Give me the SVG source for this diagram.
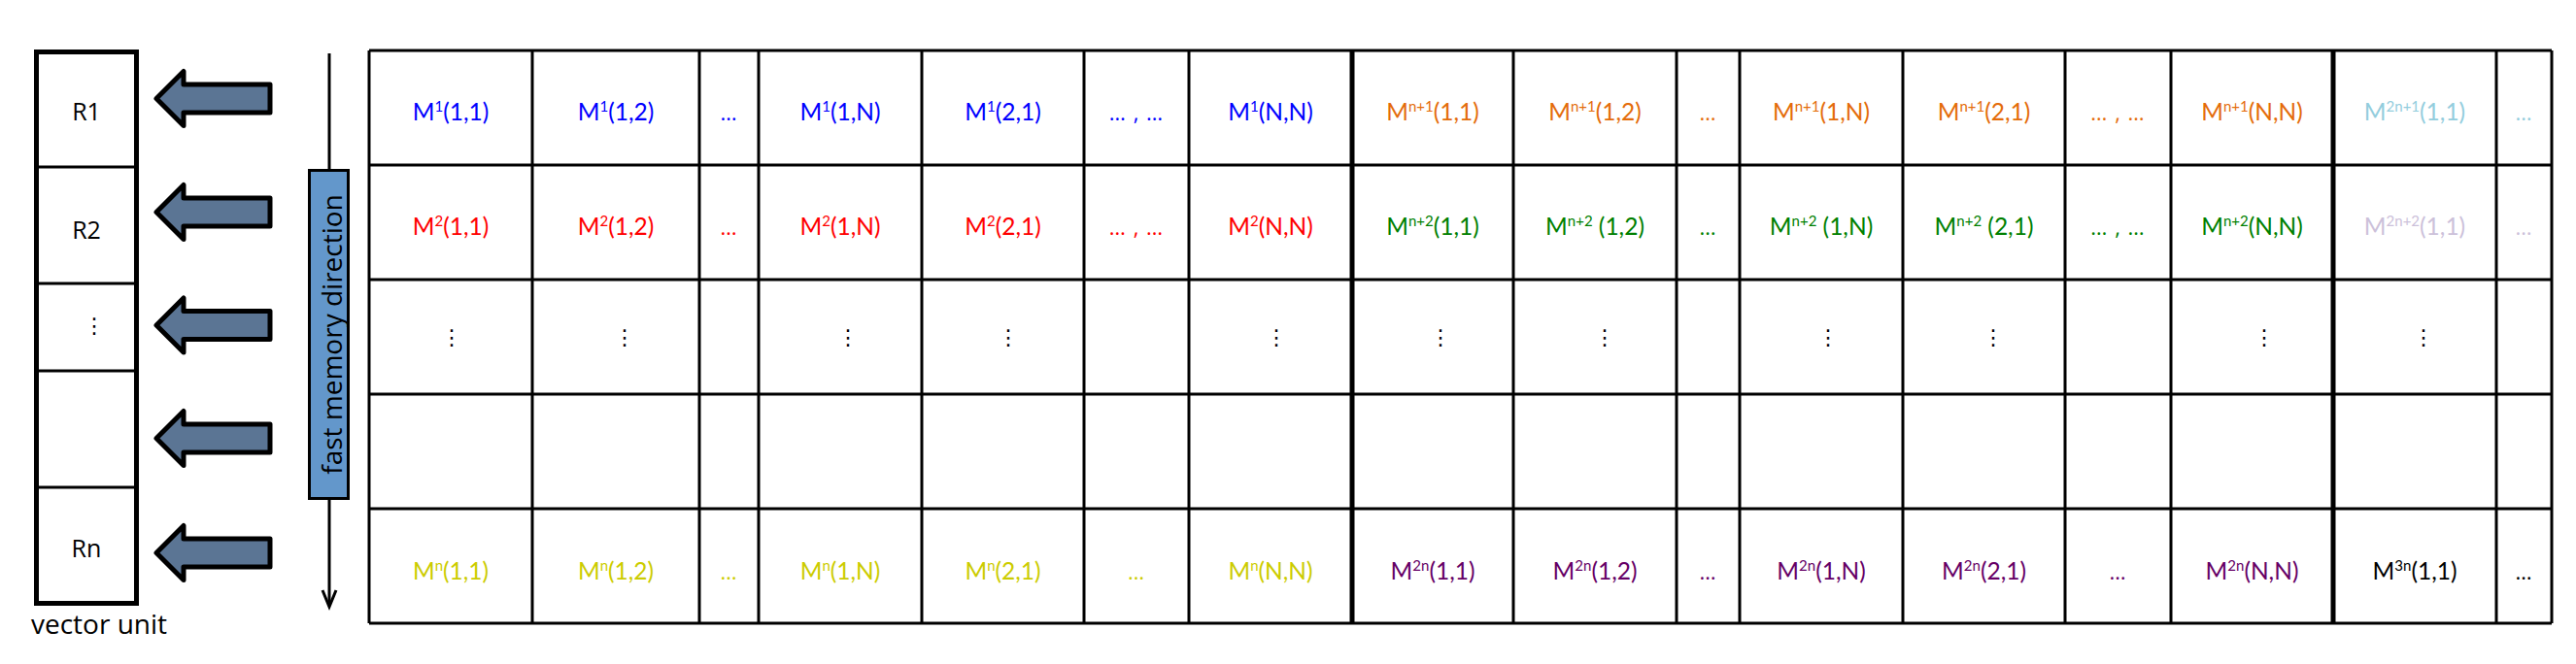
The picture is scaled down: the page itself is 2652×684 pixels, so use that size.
<svg xmlns="http://www.w3.org/2000/svg" width="2652" height="684" viewBox="0 0 2652 684">
<style>
.bg{fill:#fff}
.ln{stroke:#000;stroke-width:3;fill:none}
.thick{stroke:#000;stroke-width:5;fill:none}
.vu{fill:#fff;stroke:#000;stroke-width:5}
.lbl{font-family:"Open Sans","Noto Sans",sans-serif;font-size:25px;fill:#000;text-anchor:middle}
.m{font-family:Lato,"Open Sans",sans-serif;font-size:24.5px;text-anchor:middle}
.s{font-size:15px}
.el{font-family:"Open Sans",sans-serif;font-size:22px;letter-spacing:1px}
.vd{font-family:"DejaVu Sans",sans-serif;font-size:22px;text-anchor:middle;fill:#000}
.blue{fill:#0000ff}.red{fill:#ff0000}.orange{fill:#e46c0a}.green{fill:#008000}
.lblue{fill:#93cddd}.lav{fill:#ccc1da}.yel{fill:#cccc00}.pur{fill:#660066}.blk{fill:#000}
.arr{fill:#5b7594;stroke:#000;stroke-width:5;stroke-linejoin:round}
</style>
<defs>
<path id="bigArrow" d="M161,0 L189,-28 L189,-14.5 L278,-14.5 L278,14.5 L189,14.5 L189,28 Z"/>
</defs>
<rect class="bg" x="0" y="0" width="2652" height="684"/>

<g id="vector-unit">
<rect class="vu" x="37.5" y="53.5" width="103" height="568"/>
<path class="ln" d="M37,172 H141 M37,292 H141 M37,382 H141 M37,502 H141"/>
<text class="lbl" x="89" y="124">R1</text>
<text class="lbl" x="89" y="246">R2</text>
<text class="vd" x="97" y="343">⋮</text>
<text class="lbl" x="89" y="574">Rn</text>
<text class="lbl" x="32" y="653" style="text-anchor:start;font-size:28px">vector unit</text>
</g>

<g id="load-arrows">
<use href="#bigArrow" class="arr" transform="translate(0,101.5)"/>
<use href="#bigArrow" class="arr" transform="translate(0,218.5)"/>
<use href="#bigArrow" class="arr" transform="translate(0,335)"/>
<use href="#bigArrow" class="arr" transform="translate(0,451.5)"/>
<use href="#bigArrow" class="arr" transform="translate(0,569.5)"/>
</g>

<g id="fast-memory-direction">
<line class="ln" x1="339" y1="55" x2="339" y2="175"/>
<line class="ln" x1="339" y1="514" x2="339" y2="622"/>
<path d="M332,608 L339,625 L346,608" fill="none" stroke="#000" stroke-width="3"/>
<rect x="318.5" y="175.5" width="40" height="338" fill="#6397cb" stroke="#000" stroke-width="3"/>
<text transform="translate(352,344.5) rotate(-90)" class="lbl" style="font-size:28px">fast memory direction</text>
</g>

<g id="grid">
<path class="ln" d="M380,52 H2627 M380,170 H2627 M380,288 H2627 M380,406 H2627 M380,524 H2627 M380,642 H2627"/>
<path class="ln" d="M380,52 V642 M548,52 V642 M720,52 V642 M781,52 V642 M949,52 V642 M1116,52 V642 M1224,52 V642 M1558,52 V642 M1726,52 V642 M1791,52 V642 M1959,52 V642 M2126,52 V642 M2235,52 V642 M2570,52 V642 M2627,52 V642"/>
<path class="thick" d="M1392,51 V643 M2402,51 V643"/>
</g>

<g id="row1">
<text class="m blue" x="464" y="124">M<tspan class="s" dy="-9">1</tspan><tspan dy="9">(1,1)</tspan></text>
<text class="m blue" x="634" y="124">M<tspan class="s" dy="-9">1</tspan><tspan dy="9">(1,2)</tspan></text>
<text class="m el blue" x="750.5" y="124">…</text>
<text class="m blue" x="865" y="124">M<tspan class="s" dy="-9">1</tspan><tspan dy="9">(1,N)</tspan></text>
<text class="m blue" x="1032.5" y="124">M<tspan class="s" dy="-9">1</tspan><tspan dy="9">(2,1)</tspan></text>
<text class="m el blue" x="1170" y="124">… , …</text>
<text class="m blue" x="1308" y="124">M<tspan class="s" dy="-9">1</tspan><tspan dy="9">(N,N)</tspan></text>
<text class="m orange" x="1475" y="124">M<tspan class="s" dy="-9">n+1</tspan><tspan dy="9">(1,1)</tspan></text>
<text class="m orange" x="1642" y="124">M<tspan class="s" dy="-9">n+1</tspan><tspan dy="9">(1,2)</tspan></text>
<text class="m el orange" x="1758.5" y="124">…</text>
<text class="m orange" x="1875" y="124">M<tspan class="s" dy="-9">n+1</tspan><tspan dy="9">(1,N)</tspan></text>
<text class="m orange" x="2042.5" y="124">M<tspan class="s" dy="-9">n+1</tspan><tspan dy="9">(2,1)</tspan></text>
<text class="m el orange" x="2180.5" y="124">… , …</text>
<text class="m orange" x="2318.5" y="124">M<tspan class="s" dy="-9">n+1</tspan><tspan dy="9">(N,N)</tspan></text>
<text class="m lblue" x="2486" y="124">M<tspan class="s" dy="-9">2n+1</tspan><tspan dy="9">(1,1)</tspan></text>
<text class="m el lblue" x="2598.5" y="124">…</text>
</g>

<g id="row2">
<text class="m red" x="464" y="242">M<tspan class="s" dy="-9">2</tspan><tspan dy="9">(1,1)</tspan></text>
<text class="m red" x="634" y="242">M<tspan class="s" dy="-9">2</tspan><tspan dy="9">(1,2)</tspan></text>
<text class="m el red" x="750.5" y="242">…</text>
<text class="m red" x="865" y="242">M<tspan class="s" dy="-9">2</tspan><tspan dy="9">(1,N)</tspan></text>
<text class="m red" x="1032.5" y="242">M<tspan class="s" dy="-9">2</tspan><tspan dy="9">(2,1)</tspan></text>
<text class="m el red" x="1170" y="242">… , …</text>
<text class="m red" x="1308" y="242">M<tspan class="s" dy="-9">2</tspan><tspan dy="9">(N,N)</tspan></text>
<text class="m green" x="1475" y="242">M<tspan class="s" dy="-9">n+2</tspan><tspan dy="9">(1,1)</tspan></text>
<text class="m green" x="1642" y="242">M<tspan class="s" dy="-9">n+2</tspan><tspan dy="9"> (1,2)</tspan></text>
<text class="m el green" x="1758.5" y="242">…</text>
<text class="m green" x="1875" y="242">M<tspan class="s" dy="-9">n+2</tspan><tspan dy="9"> (1,N)</tspan></text>
<text class="m green" x="2042.5" y="242">M<tspan class="s" dy="-9">n+2</tspan><tspan dy="9"> (2,1)</tspan></text>
<text class="m el green" x="2180.5" y="242">… , …</text>
<text class="m green" x="2318.5" y="242">M<tspan class="s" dy="-9">n+2</tspan><tspan dy="9">(N,N)</tspan></text>
<text class="m lav" x="2486" y="242">M<tspan class="s" dy="-9">2n+2</tspan><tspan dy="9">(1,1)</tspan></text>
<text class="m el lav" x="2598.5" y="242">…</text>
</g>

<g id="row3">
<text class="vd" x="465" y="355">⋮</text>
<text class="vd" x="643" y="355">⋮</text>
<text class="vd" x="873" y="355">⋮</text>
<text class="vd" x="1038" y="355">⋮</text>
<text class="vd" x="1314" y="355">⋮</text>
<text class="vd" x="1483" y="355">⋮</text>
<text class="vd" x="1652" y="355">⋮</text>
<text class="vd" x="1882" y="355">⋮</text>
<text class="vd" x="2052" y="355">⋮</text>
<text class="vd" x="2331" y="355">⋮</text>
<text class="vd" x="2495" y="355">⋮</text>
</g>

<g id="row5">
<text class="m yel" x="464" y="597">M<tspan class="s" dy="-9">n</tspan><tspan dy="9">(1,1)</tspan></text>
<text class="m yel" x="634" y="597">M<tspan class="s" dy="-9">n</tspan><tspan dy="9">(1,2)</tspan></text>
<text class="m el yel" x="750.5" y="597">…</text>
<text class="m yel" x="865" y="597">M<tspan class="s" dy="-9">n</tspan><tspan dy="9">(1,N)</tspan></text>
<text class="m yel" x="1032.5" y="597">M<tspan class="s" dy="-9">n</tspan><tspan dy="9">(2,1)</tspan></text>
<text class="m el yel" x="1170" y="597">…</text>
<text class="m yel" x="1308" y="597">M<tspan class="s" dy="-9">n</tspan><tspan dy="9">(N,N)</tspan></text>
<text class="m pur" x="1475" y="597">M<tspan class="s" dy="-9">2n</tspan><tspan dy="9">(1,1)</tspan></text>
<text class="m pur" x="1642" y="597">M<tspan class="s" dy="-9">2n</tspan><tspan dy="9">(1,2)</tspan></text>
<text class="m el pur" x="1758.5" y="597">…</text>
<text class="m pur" x="1875" y="597">M<tspan class="s" dy="-9">2n</tspan><tspan dy="9">(1,N)</tspan></text>
<text class="m pur" x="2042.5" y="597">M<tspan class="s" dy="-9">2n</tspan><tspan dy="9">(2,1)</tspan></text>
<text class="m el pur" x="2180.5" y="597">…</text>
<text class="m pur" x="2318.5" y="597">M<tspan class="s" dy="-9">2n</tspan><tspan dy="9">(N,N)</tspan></text>
<text class="m blk" x="2486" y="597">M<tspan class="s" dy="-9">3n</tspan><tspan dy="9">(1,1)</tspan></text>
<text class="m el blk" x="2598.5" y="597">…</text>
</g>
</svg>
